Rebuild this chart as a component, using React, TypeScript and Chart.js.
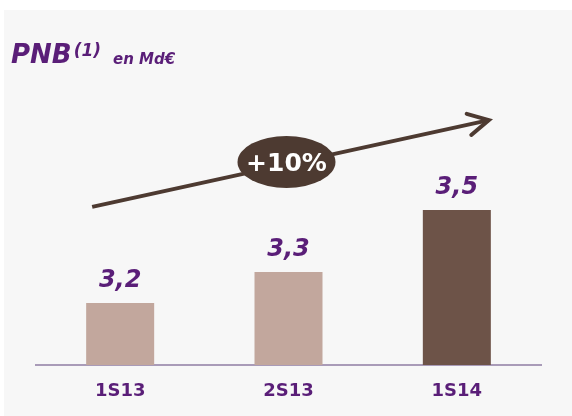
import React, { useEffect, useRef } from "react";
import { Chart, registerables } from "chart.js";

Chart.register(...registerables);

const categories = ["1S13", "2S13", "1S14"];
const pnbValues = [3.2, 3.3, 3.5];
const valueLabels = ["3,2", "3,3", "3,5"];
const barColors = ["#c2a79d", "#c2a79d", "#6d5348"];
const growthLabel = "+10%";
const titleMain = "PNB";
const titleSup = "(1)";
const titleUnit = "en Md€";

const PURPLE = "#5a1e78";
const BROWN = "#4d3a31";
const FONT = "'DejaVu Sans', Verdana, sans-serif";

const backgroundPlugin = {
  id: "panelBg",
  beforeDraw(chart: any) {
    const { ctx, width, height } = chart;
    ctx.save();
    ctx.fillStyle = "#ffffff";
    ctx.fillRect(0, 0, width, height);
    ctx.fillStyle = "#f7f7f7";
    ctx.fillRect(4, 10, width - 4, height - 10);
    ctx.restore();
  },
};

const decorPlugin = {
  id: "decor",
  afterDraw(chart: any) {
    const { ctx } = chart;
    const xs = chart.scales.x;
    const ys = chart.scales.y;
    ctx.save();
    // Title
    ctx.fillStyle = PURPLE;
    ctx.textBaseline = "alphabetic";
    ctx.textAlign = "left";
    ctx.font = `italic bold 26px ${FONT}`;
    const tx = 11;
    ctx.fillText(titleMain, tx, 63);
    const w1 = ctx.measureText(titleMain).width;
    ctx.font = `italic bold 17px ${FONT}`;
    ctx.fillText(titleSup, tx + w1 + 2, 56);
    ctx.font = `italic bold 15px ${FONT}`;
    ctx.fillText(titleUnit, 113, 64);

    // value labels
    const meta = chart.getDatasetMeta(0);
    ctx.font = `italic bold 24px ${FONT}`;
    ctx.textAlign = "center";
    meta.data.forEach((bar: any, i: number) => {
      ctx.fillText(valueLabels[i], bar.x, bar.y - 16);
    });

    // growth arrow
    const x0 = xs.getPixelForValue(0) - 28;
    const y0 = ys.getPixelForValue(3.51);
    const x1 = xs.getPixelForValue(2) + 32;
    const y1 = ys.getPixelForValue(3.79);
    ctx.strokeStyle = BROWN;
    ctx.lineWidth = 4;
    ctx.lineCap = "butt";
    ctx.beginPath();
    ctx.moveTo(x0, y0);
    ctx.lineTo(x1, y1);
    ctx.stroke();
    const back = Math.atan2(y0 - y1, x0 - x1);
    const armLen = 23;
    const spread = (28 * Math.PI) / 180;
    ctx.lineCap = "round";
    ctx.beginPath();
    ctx.moveTo(x1 + armLen * Math.cos(back + spread), y1 + armLen * Math.sin(back + spread));
    ctx.lineTo(x1, y1);
    ctx.lineTo(x1 + armLen * Math.cos(back - spread), y1 + armLen * Math.sin(back - spread));
    ctx.stroke();

    // ellipse badge
    const cx = xs.getPixelForValue(1) - 2;
    const cy = ys.getPixelForValue(3.655);
    ctx.fillStyle = BROWN;
    ctx.beginPath();
    ctx.ellipse(cx, cy, 49, 26, 0, 0, Math.PI * 2);
    ctx.fill();
    ctx.fillStyle = "#ffffff";
    ctx.font = `bold 25px ${FONT}`;
    ctx.textAlign = "center";
    ctx.fillText(growthLabel, cx, cy + 9);
    ctx.restore();
  },
};

export default function App() {
  const ref = useRef<HTMLCanvasElement | null>(null);
  useEffect(() => {
    if (!ref.current) return;
    const chart = new Chart(ref.current, {
      type: "bar",
      data: {
        labels: categories,
        datasets: [
          {
            data: pnbValues,
            backgroundColor: barColors,
            borderWidth: 0,
            barPercentage: 0.404,
            categoryPercentage: 1,
          },
        ],
      },
      options: {
        animation: false,
        responsive: false,
        devicePixelRatio: 1,
        layout: { padding: { left: 36, right: 31, top: 117, bottom: 0 } },
        plugins: {
          legend: { display: false },
          tooltip: { enabled: false },
          title: { display: false },
        },
        scales: {
          x: {
            grid: { display: false, drawTicks: false },
            border: { display: true, color: "#a99bb8", width: 2 },
            ticks: {
              color: PURPLE,
              font: { family: FONT, size: 18, weight: "bold" },
              padding: 16,
            },
            afterFit: (s: any) => {
              s.height = 51;
            },
          },
          y: {
            display: false,
            min: 3.0,
            max: 3.8,
          },
        },
      },
      plugins: [backgroundPlugin, decorPlugin],
    });
    return () => chart.destroy();
  }, []);
  return (
    <div style={{ position: "absolute", left: 0, top: 0, width: 572, height: 416 }}>
      <canvas ref={ref} width={572} height={416} style={{ width: 572, height: 416 }} />
    </div>
  );
}
